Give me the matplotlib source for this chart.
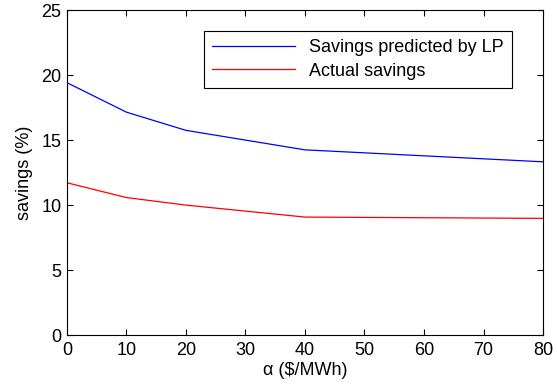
import numpy as np
import matplotlib
matplotlib.use('Agg')
import matplotlib.pyplot as plt

plt.rcParams['font.family'] = ['Liberation Sans', 'DejaVu Sans']

# data
alpha = [0, 10, 20, 40, 80]
predicted = [19.42, 17.15, 15.75, 14.25, 13.33]
actual = [11.72, 10.58, 10.0, 9.08, 8.98]

fig = plt.figure(figsize=(5.57, 3.87), dpi=100)
ax = fig.add_axes([0.120, 0.134, 0.855, 0.840])

ax.plot(alpha, predicted, color='blue', lw=0.9, label='Savings predicted by LP')
ax.plot(alpha, actual, color='red', lw=0.9, label='Actual savings')

ax.set_xlim(0, 80)
ax.set_ylim(0, 25)
ax.set_xticks(np.arange(0, 81, 10))
ax.set_yticks(np.arange(0, 26, 5))
ax.tick_params(direction='in', top=True, right=True, labelsize=13, length=4, width=0.8)
ax.tick_params(axis='x', pad=5)
ax.tick_params(axis='y', pad=4)
for s in ax.spines.values():
    s.set_linewidth(0.8)

ax.set_xlabel('\u03b1 ($/MWh)', fontsize=13, labelpad=2)
ax.set_ylabel('savings (%)', fontsize=13, labelpad=6)

leg = ax.legend(loc='upper right', bbox_to_anchor=(0.935, 0.935), fontsize=13,
                fancybox=False, edgecolor='black', framealpha=1,
                handlelength=4.6, handletextpad=0.8, borderpad=0.45, labelspacing=0.35,
                borderaxespad=0)
leg.get_frame().set_linewidth(0.8)

fig.savefig('out.png', dpi=100)
